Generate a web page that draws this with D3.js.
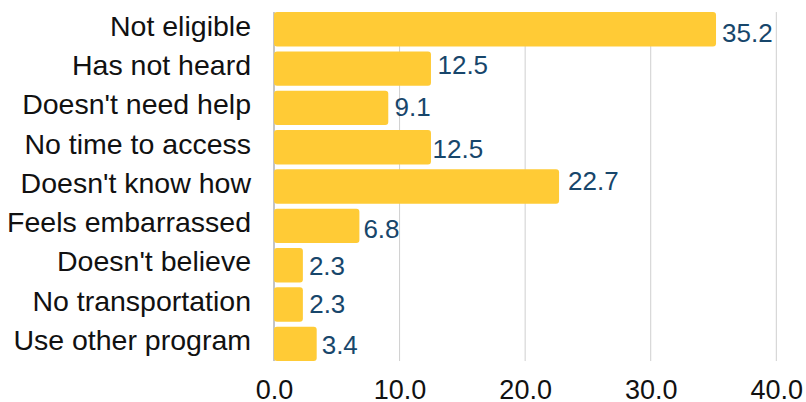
<!DOCTYPE html>
<html>
<head>
<meta charset="utf-8">
<script src="https://cdn.jsdelivr.net/npm/d3@7"></script>
<style>
  html, body { margin: 0; padding: 0; background: #fff; }
  svg { display: block; font-family: "Liberation Sans", Arial, sans-serif; }
</style>
</head>
<body>
<svg id="chart" width="806" height="402"></svg>
<script>
// Reasons for not using the program (percent of respondents)
const categories = [
  "Not eligible", "Has not heard", "Doesn't need help", "No time to access",
  "Doesn't know how", "Feels embarrassed", "Doesn't believe",
  "No transportation", "Use other program"
];
const values = [35.2, 12.5, 9.1, 12.5, 22.7, 6.8, 2.3, 2.3, 3.4];
const xTicks = [0, 10, 20, 30, 40];

// Per-label placement tweaks for the value labels: [gap after bar, vertical shift]
const labelNudge = [
  [6, 3.5], [6.5, -4], [6.3, -1], [1.6, 1.7], [9, -6],
  [4, 3], [6, 0], [6.3, -1], [5, 0.7]
];

const svg = d3.select("#chart");
const W = 806, H = 402;
const margin = { left: 274, top: 9.6, bottom: 38.5 };

const x = d3.scaleLinear().domain([0, 40]).range([margin.left, 776.3]);
const y = d3.scaleBand().domain(categories)
  .range([margin.top, H - margin.bottom]).paddingInner(0.125).paddingOuter(0.0625);

const yTop = y(categories[0]);
const yBot = y(categories[categories.length - 1]) + y.bandwidth();

// vertical gridlines
svg.append("g").selectAll("line")
  .data(xTicks.filter(d => d > 0))
  .join("line")
  .attr("x1", d => x(d)).attr("x2", d => x(d))
  .attr("y1", yTop).attr("y2", yBot)
  .attr("stroke", "#cfcfcf").attr("stroke-width", 1);

// category axis line
svg.append("line")
  .attr("x1", x(0)).attr("x2", x(0))
  .attr("y1", yTop).attr("y2", yBot)
  .attr("stroke", "#8a8a8a").attr("stroke-width", 1);

// bars
svg.append("g").selectAll("rect")
  .data(values)
  .join("rect")
  .attr("x", x(0))
  .attr("y", (d, i) => y(categories[i]))
  .attr("width", d => x(d) - x(0))
  .attr("height", y.bandwidth())
  .attr("rx", 3).attr("ry", 3)
  .attr("fill", "#ffcb36");

// value labels
const valueFont = 26;
svg.append("g").selectAll("text")
  .data(values)
  .join("text")
  .attr("x", (d, i) => x(d) + labelNudge[i][0])
  .attr("y", (d, i) => y(categories[i]) + y.bandwidth() / 2 + labelNudge[i][1] + 0.358 * valueFont)
  .attr("font-size", valueFont)
  .attr("fill", "#17466b")
  .text(d => d.toFixed(1));

// category labels
const yAxis = d3.axisLeft(y).tickSize(0).tickPadding(23);
const gy = svg.append("g").attr("transform", `translate(${x(0)},0)`).call(yAxis);
gy.select(".domain").remove();
gy.selectAll("text")
  .attr("font-size", 28.5)
  .attr("font-family", "Liberation Sans, Arial, sans-serif")
  .attr("fill", "#111")
  .attr("dy", "0.22em");

// value axis tick labels
const xAxis = d3.axisBottom(x).tickValues(xTicks).tickSize(0).tickPadding(0)
  .tickFormat(d3.format(".1f"));
const gx = svg.append("g").attr("transform", `translate(0,${yBot})`).call(xAxis);
gx.select(".domain").remove();
gx.selectAll("text")
  .attr("font-size", 27)
  .attr("font-family", "Liberation Sans, Arial, sans-serif")
  .attr("fill", "#111")
  .attr("dy", null)
  .attr("y", 37.5);
</script>
</body>
</html>
